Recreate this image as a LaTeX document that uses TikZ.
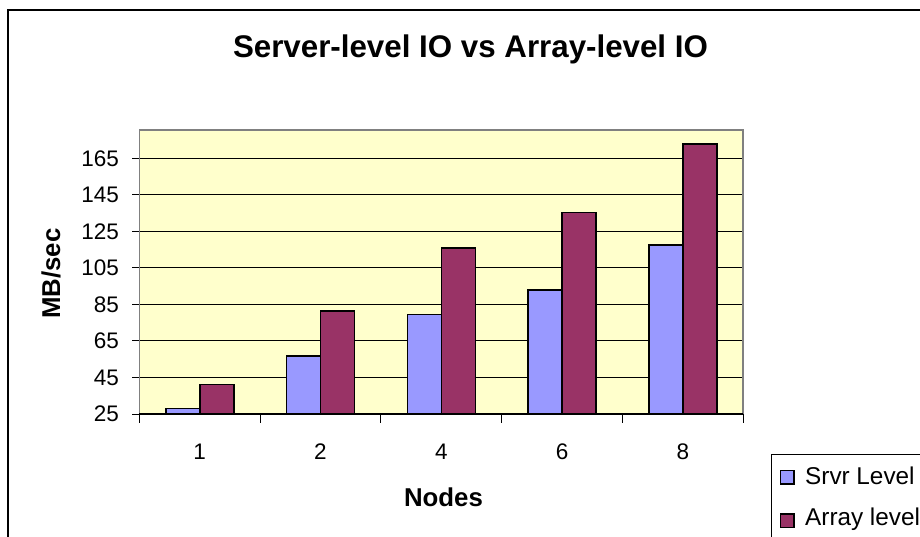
\documentclass[tikz,border=0pt]{standalone}
\usepackage{fontspec}
\setmainfont{Liberation Sans}
\definecolor{srvr}{HTML}{9999FF}
\definecolor{arr}{HTML}{993366}
\definecolor{plotbg}{HTML}{FFFFCC}
\definecolor{plotedge}{HTML}{808080}
\begin{document}
\begin{tikzpicture}[x=1pt,y=-1pt,
  bar/.style={draw=black,line width=1.6pt},
  grid line/.style={draw=black,line width=1pt},
  tick/.style={draw=black,line width=1pt},
  ticklabel/.style={inner sep=0pt,font=\fontsize{22.5}{27}\selectfont},
  axistitle/.style={inner sep=0pt,font=\fontsize{25.8}{31}\selectfont\bfseries},
  legtext/.style={inner sep=0pt,anchor=base west,font=\fontsize{24.3}{29}\selectfont},
  legkey/.style={draw=black,line width=1.3pt}]
\useasboundingbox (0,0) rectangle (920,537);
\clip (0,0) rectangle (920,537);
\fill[white] (0,0) rectangle (920,537);
% outer chart border
\draw[line width=2.2pt] (7.8,545) -- (7.8,10) -- (930,10);
% title
\node[inner sep=0pt,anchor=base,font=\fontsize{31.3}{37}\selectfont\bfseries] (title) at (470.5,57.3) {Server-level IO vs Array-level IO};
% plot area
\fill[plotbg] (139.3,130) rectangle (743,414);
% gridlines and y labels
\foreach \v in {45,65,85,105,125,145,165}{
  \pgfmathsetmacro{\yy}{414-(\v-25)*1.826}
  \draw[grid line] (139.3,\yy) -- (743,\yy);
}
\foreach \v/\nm in {25/a,45/b,65/c,85/d,105/e,125/f,145/g,165/h}{
  \pgfmathsetmacro{\yy}{414-(\v-25)*1.826}
  \draw[tick] (132,\yy) -- (139.3,\yy);
  \node[ticklabel,anchor=base east] (y\nm) at (119,\yy+7.9) {\v};
}
\draw[plotedge,line width=1.4pt] (139.3,414) -- (139.3,130) -- (743,130) -- (743,414);
% bars
\foreach \i/\s/\a in {0/408.3/384.3,1/356/310.7,2/314.3/248.3,3/290/212.7,4/245/144.3}{
  \pgfmathsetmacro{\xs}{139.3+120.8*\i}
  \filldraw[bar,fill=srvr] (\xs+26.4,414) rectangle (\xs+60.4,\s);
  \filldraw[bar,fill=arr] (\xs+60.4,414) rectangle (\xs+94.4,\a);
}
% x axis
\draw[black,line width=1.2pt] (139.3,414) -- (743,414);
\foreach \i in {0,...,5}{
  \draw[tick] (139.3+120.8*\i,414) -- (139.3+120.8*\i,423);
}
\foreach \i/\t in {0/1,1/2,2/4,3/6,4/8}{
  \node[ticklabel,anchor=base] (x\t) at (139.3+120.8*\i+60.4,459.3) {\t};
}
% axis titles
\node[axistitle,anchor=base] (xtitle) at (443.5,506) {Nodes};
\node[axistitle,anchor=base,rotate=90] (ytitle) at (60,273.5) {MB/sec};
% legend
\draw[black,line width=1.2pt] (930,454.3) -- (771.7,454.3) -- (771.7,545);
\filldraw[legkey,fill=srvr] (780.7,470.7) rectangle (794,484);
\filldraw[legkey,fill=arr] (780.7,514) rectangle (794,527.3);
\node[legtext] (l1) at (805,484) {Srvr Level};
\node[legtext] (l2) at (805,525.3) {Array level};
\end{tikzpicture}
\end{document}
